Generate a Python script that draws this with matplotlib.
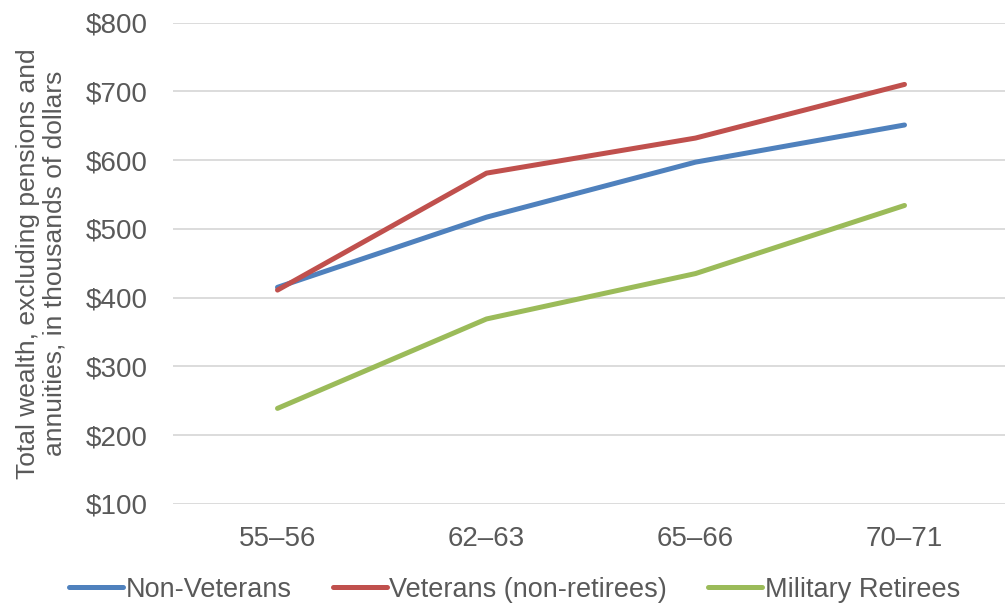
import matplotlib.pyplot as plt

plt.rcParams['font.family'] = ['Liberation Sans', 'DejaVu Sans']

ages = ["55–56", "62–63", "65–66", "70–71"]
non_veterans = [415, 517, 597, 651]
veterans = [411, 581, 632, 710]
military_retirees = [239, 369, 435, 534]

grey = "#595959"

fig = plt.figure(figsize=(10.05, 6.07), dpi=100)
ax = fig.add_axes([173 / 1005, 1 - 504 / 607, 836 / 1005, (504 - 22.5) / 607])

x = range(len(ages))
ax.plot(x, non_veterans, color="#4F81BD", lw=3.6, solid_capstyle="round", label="Non-Veterans")
ax.plot(x, veterans, color="#C0504D", lw=3.6, solid_capstyle="round", label="Veterans (non-retirees)")
ax.plot(x, military_retirees, color="#9BBB59", lw=3.6, solid_capstyle="round", label="Military Retirees")

ax.set_xlim(-0.5, len(ages) - 0.5)
ax.set_ylim(100, 800)
ax.set_yticks(range(100, 801, 100))
ax.set_yticklabels([f"${v}" for v in range(100, 801, 100)])
ax.set_xticks(list(x))
ax.set_xticklabels(ages)
ax.grid(axis="y", color="#D9D9D9", lw=1.3)
ax.set_axisbelow(True)
for s in ax.spines.values():
    s.set_visible(False)
ax.tick_params(length=0, labelsize=20, colors=grey)
ax.tick_params(axis="y", pad=18)
ax.tick_params(axis="x", pad=16)

ax.set_ylabel("Total wealth, excluding pensions and\nannuities, in thousands of dollars",
              fontsize=19, color=grey, linespacing=1.15, labelpad=14)

leg = fig.legend(loc="lower center", bbox_to_anchor=(0.512, -0.033), ncol=3, frameon=False,
                 fontsize=19.5, handlelength=2.0, handletextpad=0.1, columnspacing=1.5)
for t in leg.get_texts():
    t.set_color(grey)

fig.savefig("out.png", dpi=100)
